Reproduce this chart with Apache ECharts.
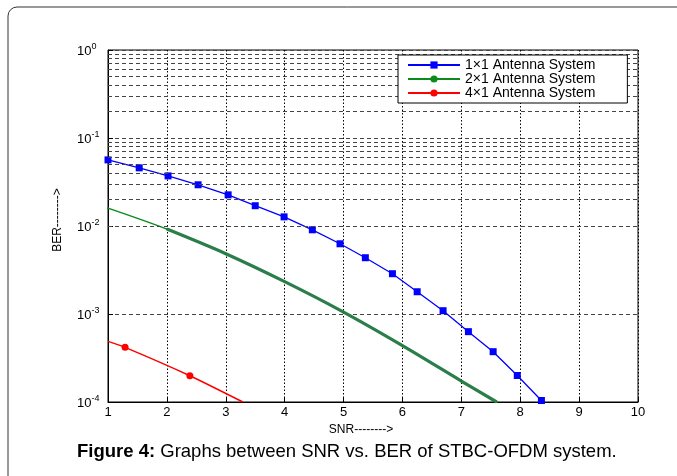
<!DOCTYPE html>
<html lang="en">
<head>
    <meta charset="UTF-8">
    <title>SNR vs BER</title>
    <script src="https://cdn.jsdelivr.net/npm/echarts@6/dist/echarts.min.js"></script>
    <style>
        html, body { margin: 0; padding: 0; background: #fff; }
        #chart { width: 677px; height: 476px; }
    </style>
</head>
<body>
<div id="chart"></div>
<script>
    // values
    var seriesNames = ['1×1 Antenna System', '2×1 Antenna System', '4×1 Antenna System'];

    var blueX = [1.0, 1.53, 2.02, 2.53, 3.04, 3.5, 3.99, 4.47, 4.94, 5.37, 5.83, 6.25, 6.69, 7.12, 7.54, 7.95, 8.36];
    var blueY = [0.0564, 0.0458, 0.0371, 0.0294, 0.0226, 0.0170, 0.0127, 0.00905, 0.00628, 0.00436, 0.00287, 0.00179, 0.00109, 0.00063, 0.000373, 0.000200, 0.000104];

    var greenX = [1, 2, 3, 4, 5, 6, 7, 7.6];
    var greenY = [0.01596, 0.00922, 0.00484, 0.00233, 0.00105, 0.000437, 0.000173, 0.0001];

    var redX = [1, 1.29, 2.39, 3.29];
    var redY = [0.000489, 0.000418, 0.000199, 0.0001];
    var redMarked = [false, true, true, false];

    var yDecades = [-4, -3, -2, -1, 0];

    var font = 'Liberation Sans, Arial, Helvetica, sans-serif';

    function pairs(xs, ys) {
        return xs.map(function (x, i) { return [x, ys[i]]; });
    }

    // dashed minor grid of the log axis (2..9 x 10^k)
    var minorLines = [];
    for (var k = 0; k < yDecades.length - 1; k++) {
        for (var m = 2; m <= 9; m++) {
            minorLines.push({ yAxis: m * Math.pow(10, yDecades[k]) });
        }
    }

    var myChart = echarts.init(document.getElementById('chart'));
    var option = {
        backgroundColor: '#fff',
        animation: false,
        textStyle: { fontFamily: font },
        grid: {
            left: 108, right: 39, top: 50, bottom: 74,
            show: true, borderColor: '#000', borderWidth: 1, backgroundColor: '#fff'
        },
        legend: {
            data: seriesNames,
            orient: 'vertical',
            left: 398, top: 55,
            z: 20,
            backgroundColor: '#fff',
            borderColor: '#000', borderWidth: 1,
            padding: [3, 32, 3, 9],
            itemWidth: 52, itemHeight: 9, itemGap: 0,
            textStyle: { fontSize: 14, color: '#000', fontFamily: font }
        },
        xAxis: {
            type: 'value',
            min: 1, max: 10, interval: 1,
            name: 'SNR-------->',
            nameLocation: 'middle',
            nameGap: 18,
            nameTextStyle: { fontSize: 12, color: '#000', padding: [0, 24, 0, 0] },
            axisLine: { lineStyle: { color: '#000' } },
            axisTick: { inside: true, length: 5, lineStyle: { color: '#000' } },
            axisLabel: { fontSize: 13, color: '#000', margin: 4 },
            splitLine: { show: true, lineStyle: { color: '#000', type: [1.5, 2], width: 1 } }
        },
        yAxis: {
            type: 'log',
            logBase: 10,
            min: 1e-4, max: 1,
            name: 'BER-------->',
            nameLocation: 'middle',
            nameGap: 44,
            nameTextStyle: { fontSize: 12, color: '#000', padding: [0, 0, 0, 12] },
            axisLine: { lineStyle: { color: '#000' } },
            axisTick: { inside: true, length: 5, lineStyle: { color: '#000' } },
            axisLabel: {
                color: '#000',
                margin: 31,
                align: 'left',
                formatter: function (v) {
                    return '{b|10}{e|' + Math.round(Math.log10(v)) + '}';
                },
                rich: {
                    b: { fontSize: 13, lineHeight: 16, verticalAlign: 'bottom', color: '#000' },
                    e: { fontSize: 9, lineHeight: 9, verticalAlign: 'top', color: '#000' }
                }
            },
            splitLine: { show: true, lineStyle: { color: '#444', type: [4, 3], width: 1 } }
        },
        series: [
            {
                name: 'minor grid',
                type: 'line',
                data: [],
                silent: true,
                z: 1,
                markLine: {
                    silent: true,
                    symbol: 'none',
                    label: { show: false },
                    lineStyle: { color: '#444', type: [4, 3], width: 1 },
                    data: minorLines
                }
            },
            {
                name: seriesNames[0],
                type: 'line',
                data: pairs(blueX, blueY),
                color: '#0000ff',
                symbol: 'rect',
                symbolSize: 7,
                showAllSymbol: true,
                lineStyle: { width: 1.3 },
                z: 4
            },
            {
                name: seriesNames[1],
                type: 'line',
                data: pairs(greenX, greenY),
                color: '#0c8a1c',
                symbol: 'circle',
                symbolSize: 2,
                smooth: 0.3,
                lineStyle: { width: 1.5 },
                z: 3
            },
            {
                // dense marker band of the green curve
                name: 'green markers',
                type: 'line',
                data: pairs(greenX.slice(1), greenY.slice(1)),
                color: '#2b7d4a',
                symbol: 'none',
                smooth: 0.3,
                lineStyle: { width: 3.2 },
                z: 3
            },
            {
                name: seriesNames[2],
                type: 'line',
                data: pairs(redX, redY).map(function (p, i) {
                    return { value: p, symbol: redMarked[i] ? 'circle' : 'none' };
                }),
                color: '#ff0000',
                symbol: 'circle',
                symbolSize: 7,
                smooth: 0.2,
                lineStyle: { width: 1.5 },
                z: 4
            }
        ],
        graphic: [
            {
                type: 'rect',
                shape: { x: 8, y: 7, width: 760, height: 560, r: 9 },
                style: { fill: 'none', stroke: '#333', lineWidth: 1 },
                z: -10
            },
            {
                type: 'text',
                left: 77, top: 442,
                style: {
                    text: '{b|Figure 4:} Graphs between SNR vs. BER of STBC-OFDM system.',
                    fontSize: 18.5,
                    fontFamily: font,
                    fill: '#000',
                    rich: { b: { fontWeight: 'bold', fontSize: 18.5, fontFamily: font } }
                }
            }
        ]
    };
    myChart.setOption(option);
</script>
</body>
</html>
